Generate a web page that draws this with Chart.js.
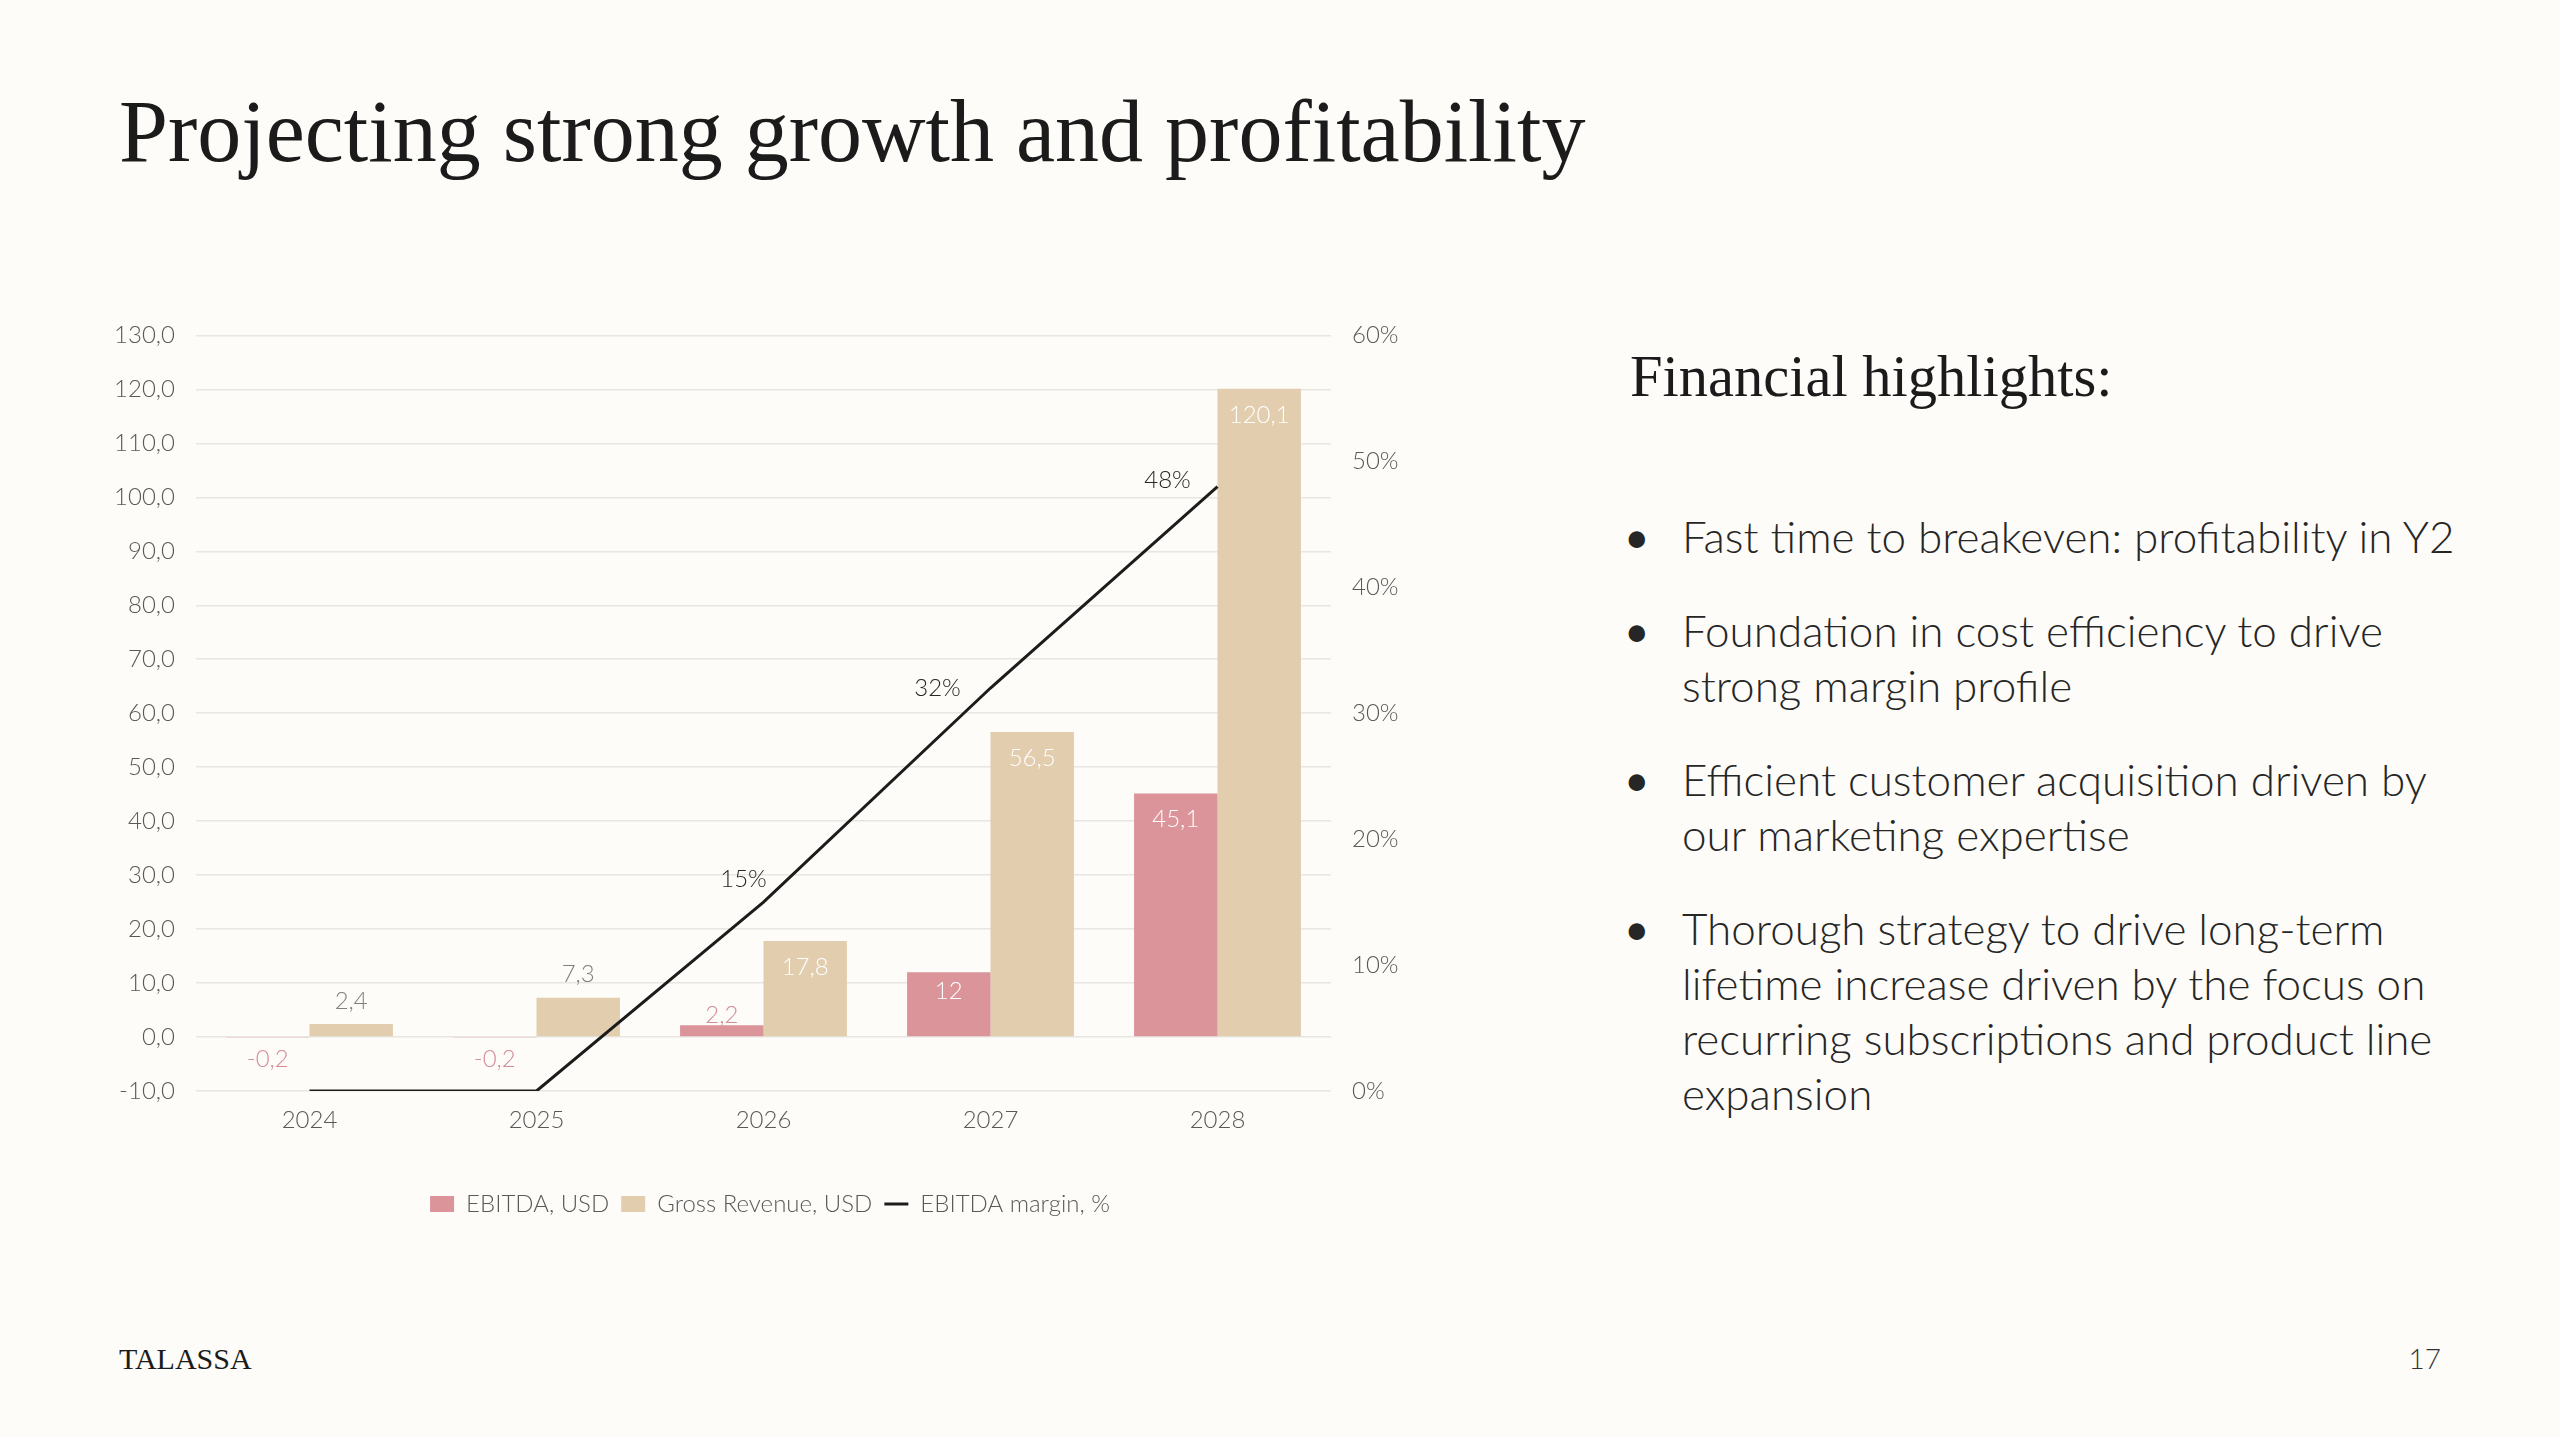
<!DOCTYPE html>
<html>
<head>
<meta charset="utf-8">
<script src="https://cdn.jsdelivr.net/npm/chart.js@4.4.1/dist/chart.umd.min.js"></script>
<style>
  html, body { margin:0; padding:0; }
  body { width:2560px; height:1437px; background:#FDFCF9; position:relative; overflow:hidden; }
  .serif { font-family:'Liberation Serif','DejaVu Serif',serif; color:#1b1b1b; white-space:nowrap; line-height:1; position:absolute; }
  #title { left:119px; top:88px; font-size:88px; }
  #subtitle { left:1630px; top:348px; font-size:58.5px; }
  #bullets { position:absolute; left:1624px; top:509px; font-family:'Lato',sans-serif; font-weight:300; font-size:44px; line-height:55px; color:#262626; white-space:nowrap; }
  .item { position:relative; padding-left:58px; margin-bottom:39px; }
  .dot { position:absolute; left:0; top:0; font-weight:400; }
  #brand { left:119px; top:1344px; font-size:30px; }
  #page { position:absolute; right:119px; top:1344px; font-family:'Lato',sans-serif; font-weight:300; font-size:28px; line-height:1; color:#333; }
  #chartBox { position:absolute; left:100px; top:300px; width:1340px; height:936px; }
</style>
</head>
<body>
<div id="title" class="serif">Projecting strong growth and profitability</div>
<div id="subtitle" class="serif">Financial highlights:</div>
<div id="bullets">
  <div class="item"><span class="dot">•</span>Fast time to breakeven: profitability in Y2</div>
  <div class="item"><span class="dot">•</span>Foundation in cost efficiency to drive<br>strong margin profile</div>
  <div class="item"><span class="dot">•</span>Efficient customer acquisition driven by<br>our marketing expertise</div>
  <div class="item"><span class="dot">•</span>Thorough strategy to drive long-term<br>lifetime increase driven by the focus on<br>recurring subscriptions and product line<br>expansion</div>
</div>
<div id="brand" class="serif">TALASSA</div>
<div id="page">17</div>
<div id="chartBox"><canvas id="c"></canvas></div>
<script>
// ---- data ----
const years = ['2024', '2025', '2026', '2027', '2028'];
const ebitda = [-0.2, -0.2, 2.2, 12, 45.1];
const grossRevenue = [2.4, 7.3, 17.8, 56.5, 120.1];
const ebitdaMargin = [0, 0, 15, 32, 48];
const leftTicks = { min: -10, max: 130, step: 10 };
const rightTicks = { min: 0, max: 60, step: 10 };
const seriesNames = ['EBITDA, USD', 'Gross Revenue, USD', 'EBITDA margin, %'];

// ---- styles ----
const PINK = '#DA949A';
const BEIGE = '#E2CDAE';
const LINE = '#1c1c1c';
const TICK = '#595959';
const FONT = { family: 'Lato', size: 24, weight: '300' };

const fmt1 = v => (Math.round(v * 10) / 10).toString().replace('.', ',');

const valueLabels = {
  id: 'valueLabels',
  afterDatasetsDraw(chart, args, opts) {
    const ctx = chart.ctx;
    ctx.save();
    ctx.font = `${FONT.weight} ${FONT.size}px ${FONT.family}`;
    ctx.textAlign = 'center';
    ctx.textBaseline = 'middle';
    chart.data.datasets.forEach((ds, di) => {
      const meta = chart.getDatasetMeta(di);
      meta.data.forEach((el, i) => {
        const v = ds.data[i];
        if (meta.type === 'bar') {
          const h = Math.abs(el.base - el.y);
          let x = el.x, y, color;
          if (v < 0) {
            y = el.base + 21; color = opts.outsideColor[di];
          } else if (h < 60) {
            y = di === 0 ? el.base - 21 : el.y - 23;
            color = opts.outsideColor[di];
          } else {
            y = el.y + Math.min(26, h * 0.3); color = '#ffffff';
          }
          ctx.fillStyle = color;
          ctx.fillText(fmt1(v), x, y);
        } else {
          const off = opts.lineOffsets[i];
          if (!off) return;
          ctx.fillStyle = '#262626';
          ctx.fillText(v + '%', el.x + off[0], el.y + off[1]);
        }
      });
    });
    ctx.restore();
  }
};

new Chart(document.getElementById('c'), {
  data: {
    labels: years,
    datasets: [
      { type: 'bar', label: seriesNames[0], data: ebitda, backgroundColor: PINK, order: 1, yAxisID: 'y',
        categoryPercentage: 0.735, barPercentage: 1 },
      { type: 'bar', label: seriesNames[1], data: grossRevenue, backgroundColor: BEIGE, order: 1, yAxisID: 'y',
        categoryPercentage: 0.735, barPercentage: 1 },
      { type: 'line', label: seriesNames[2], data: ebitdaMargin, borderColor: LINE, backgroundColor: LINE,
        borderWidth: 3, pointRadius: 0, tension: 0, order: 0, yAxisID: 'y1' }
    ]
  },
  options: {
    responsive: true,
    maintainAspectRatio: false,
    animation: false,
    layout: { padding: { top: 35, bottom: 10, left: 0, right: 0 } },
    scales: {
      x: {
        grid: { display: false }, border: { display: false },
        ticks: { font: FONT, color: TICK, padding: 7 },
        afterFit: s => { s.height = 89; }
      },
      y: {
        position: 'left', min: leftTicks.min, max: leftTicks.max,
        ticks: { stepSize: leftTicks.step, font: FONT, color: TICK, padding: 21,
                 callback: v => v.toFixed(1).replace('.', ',') },
        grid: { color: '#E9E6E1', lineWidth: 1.5, drawTicks: false },
        border: { display: false },
        afterFit: s => { s.width = 96; }
      },
      y1: {
        position: 'right', min: rightTicks.min, max: rightTicks.max,
        ticks: { stepSize: rightTicks.step, font: FONT, color: TICK, padding: 21,
                 callback: v => v + '%' },
        grid: { display: false, drawTicks: false }, border: { display: false },
        afterFit: s => { s.width = 109; }
      }
    },
    plugins: {
      tooltip: { enabled: false },
      legend: {
        position: 'bottom',
        labels: {
          font: FONT, color: TICK, padding: 12,
          usePointStyle: true, pointStyleWidth: 24, boxHeight: 16,
          generateLabels(chart) {
            const items = Chart.defaults.plugins.legend.labels.generateLabels(chart);
            items.forEach(it => {
              const ds = chart.data.datasets[it.datasetIndex];
              it.pointStyle = ds.type === 'line' ? 'line' : 'rect';
              if (ds.type === 'line') { it.strokeStyle = LINE; it.lineWidth = 3; }
              else { it.lineWidth = 0; it.strokeStyle = ds.backgroundColor; }
            });
            items.sort((a, b) => a.datasetIndex - b.datasetIndex);
            return items;
          }
        }
      },
      valueLabels: {
        outsideColor: ['#D48C95', '#7F7F7F'],
        lineOffsets: [null, null, [-20, -23], [-53, 0], [-50, -6]]
      }
    }
  },
  plugins: [valueLabels]
});
</script>
</body>
</html>
